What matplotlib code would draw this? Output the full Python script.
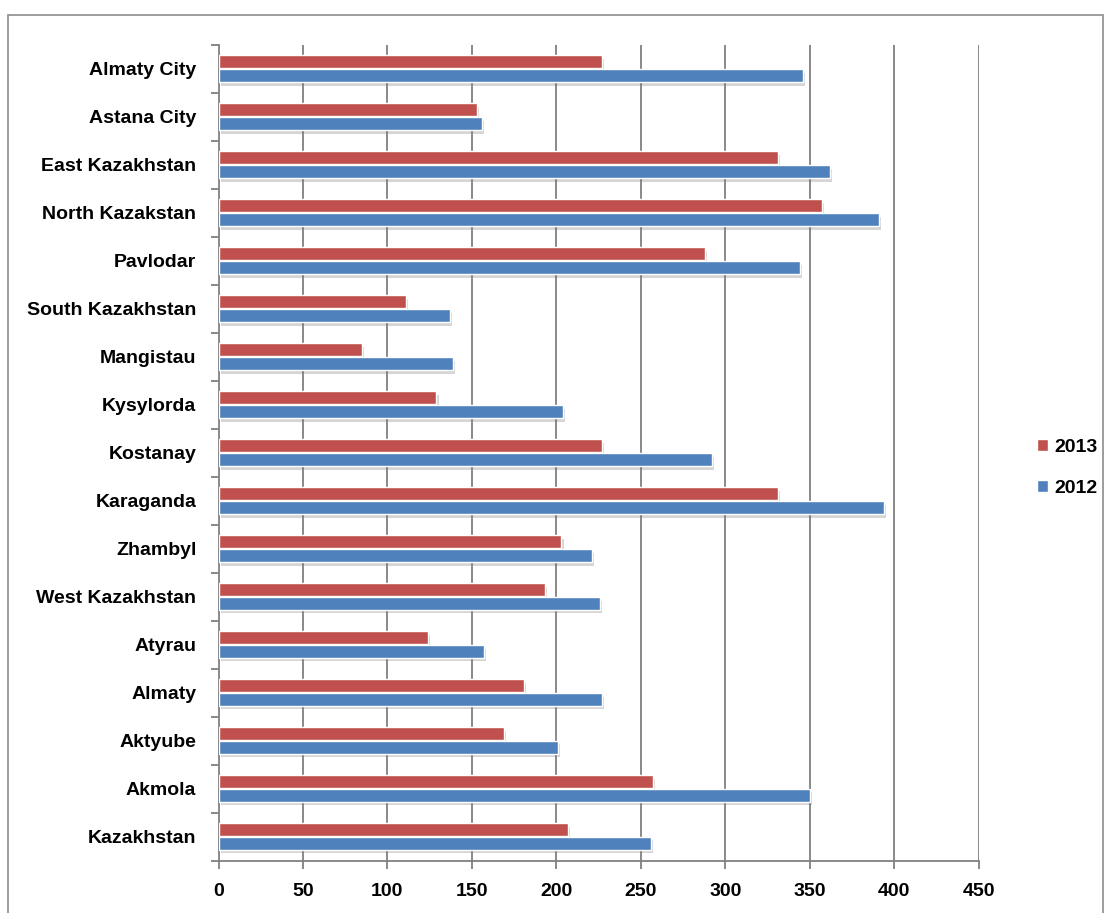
import matplotlib.pyplot as plt
import matplotlib.patheffects as pe
from matplotlib.patches import Rectangle, Patch
import numpy as np

plt.rcParams['font.family'] = ['Liberation Sans', 'DejaVu Sans']

regions = ['Almaty City', 'Astana City', 'East Kazakhstan', 'North Kazakstan',
           'Pavlodar', 'South Kazakhstan', 'Mangistau', 'Kysylorda', 'Kostanay',
           'Karaganda', 'Zhambyl', 'West Kazakhstan', 'Atyrau', 'Almaty',
           'Aktyube', 'Akmola', 'Kazakhstan']
y2013 = [227, 153, 331, 357, 288, 111, 85, 129, 227, 331, 203, 193, 124, 181, 169, 257, 207]
y2012 = [346, 156, 362, 391, 344, 137, 139, 204, 292, 394, 221, 226, 157, 227, 201, 350, 256]
xticks = [0, 50, 100, 150, 200, 250, 300, 350, 400, 450]

red = '#C0504D'
blue = '#4F81BD'
grid = '#808080'

fig = plt.figure(figsize=(11.12, 9.13), dpi=100)
ax = fig.add_axes([0.1965, 0.0575, 0.6836, 0.8935])

pos = np.arange(len(regions))
h = 0.27
shadow = [pe.SimplePatchShadow(offset=(1.5, -2.5), shadow_rgbFace='#777777', alpha=0.3),
          pe.Normal()]
b13 = ax.barh(pos - 0.145, y2013, height=h, color=red, edgecolor='white',
              linewidth=1.0, zorder=3)
b12 = ax.barh(pos + 0.145, y2012, height=h, color=blue, edgecolor='white',
              linewidth=1.0, zorder=3)
for bar in list(b13) + list(b12):
    bar.set_path_effects(shadow)

ax.set_xlim(0, 450)
ax.set_ylim(len(regions) - 0.5, -0.5)

# vertical gridlines
for x in xticks[1:]:
    ax.axvline(x, color=grid, linewidth=1.3, zorder=1)

for s in ['top', 'right']:
    ax.spines[s].set_visible(False)
for s in ['left', 'bottom']:
    ax.spines[s].set_color(grid)
    ax.spines[s].set_linewidth(1.3)

ax.set_xticks(xticks)
ax.set_xticklabels([str(v) for v in xticks], fontsize=14, fontweight='bold')
ax.tick_params(axis='x', length=6, width=1.3, color=grid, pad=10)

# boundary ticks on the category axis, labels centered between them
ax.set_yticks(np.arange(-0.5, len(regions), 1.0))
ax.set_yticklabels([])
ax.tick_params(axis='y', which='major', length=6, width=1.3, color=grid)
ax.set_yticks(pos, minor=True)
ax.set_yticklabels(regions, minor=True, fontsize=14, fontweight='bold')
ax.tick_params(axis='y', which='minor', length=0, pad=16)

handles = [Patch(facecolor=red, edgecolor='white'), Patch(facecolor=blue, edgecolor='white')]
fig.legend(handles, ['2013', '2012'], loc='center left',
           bbox_to_anchor=(1019 / 1112, 1 - 468 / 913), frameon=False,
           prop={'size': 14, 'weight': 'bold'}, handlelength=0.6, handleheight=0.6,
           handletextpad=0.3, labelspacing=1.25)

# outer chart frame
fig.patches.append(Rectangle((8 / 1112, -0.05), 1095 / 1112, 0.05 + (913 - 15) / 913,
                             transform=fig.transFigure, fill=False,
                             edgecolor='#8c8c8c', linewidth=1.2))

fig.savefig('out.png', dpi=100, facecolor='white')
